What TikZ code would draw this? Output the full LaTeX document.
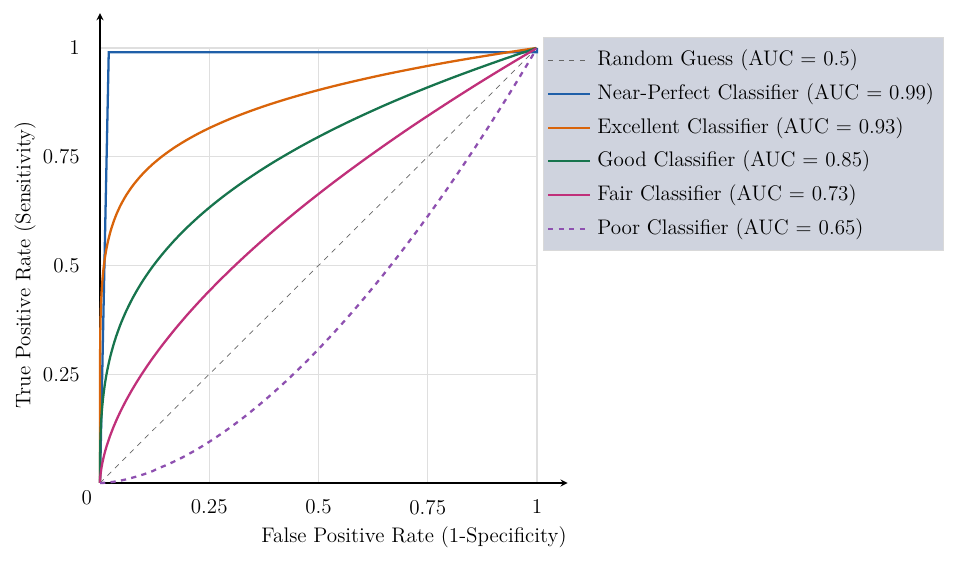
\documentclass[tikz,border=0pt]{standalone}
\usepackage{tikz}
\usetikzlibrary{positioning}
\definecolor{cblue}{HTML}{1F5FA8}
\definecolor{corange}{HTML}{D9640A}
\definecolor{cgreen}{HTML}{17744D}
\definecolor{cmagenta}{HTML}{C0307A}
\definecolor{cpurple}{HTML}{8E50B0}
\definecolor{legendbg}{HTML}{CFD3DE}
\begin{document}
\begin{tikzpicture}[
        x=0.2mm, y=0.2mm,
        every node/.style={font=\large},
        curve/.style={line width=1.3pt},
        guess/.style={gray!80!black, dashed, thin},
        poor/.style={curve, cpurple, dashed},
        gridline/.style={gray!25, line width=0.8pt},
        >=stealth
    ]
    \useasboundingbox (0,0) rectangle (960,564);

    % Plot area
    \begin{scope}[shift={(100,81)}, x=87.4mm, y=87mm]
    % Grid
    \foreach \t in {0.25,0.5,0.75,1} {
        \draw[gridline] (\t,0) -- (\t,1);
        \draw[gridline] (0,\t) -- (1,\t);
    }
    % Axes
    \coordinate (origin) at (0,0);
    \coordinate (xend) at (1.07,0);
    \coordinate (yend) at (0,1.08);
    \draw[->, thick] (origin) -- (xend);
    \draw[->, thick] (origin) -- (yend);
    % Tick labels
    \node[below left=1pt and 1pt] (zero) at (origin) {0};
    \foreach \t in {0.25,0.5,0.75,1} {
        \node[below=6pt] (xt\t) at (\t,0) {\t};
        \node[left=8pt] (yt\t) at (0,\t) {\t};
    }
    % Curves
    \draw[guess] (0,0) -- (1,1);
    \draw[curve, cblue] (0,0) -- (0.02,0.99) -- (1,0.99) -- (1,1);
    \foreach \a/\col in {0.147/corange, 0.33/cgreen, 0.59/cmagenta}
        \draw[curve, \col] (0,0) -- plot[domain=-14:0, samples=200, smooth]
            ({exp(\x)},{exp(\a*\x)});
    \draw[poor] plot[domain=0:1, samples=100] (\x,{\x^1.7});
    \end{scope}

    % Axis titles
    \node (xlabel) at (414,27) {False Positive Rate (1-Specificity)};
    \node[rotate=90] (ylabel) at (25,299) {True Positive Rate (Sensitivity)};

    % Legend
    \node[draw=gray!30, fill=legendbg, minimum width=80mm, minimum height=42.6mm,
          inner sep=0pt] (legend) at (743,420.5) {};
    \foreach \yy/\sty/\txt in {
        504/guess/{Random Guess (AUC = 0.5)},
        470/{curve,cblue}/{Near-Perfect Classifier (AUC = 0.99)},
        436/{curve,corange}/{Excellent Classifier (AUC = 0.93)},
        403/{curve,cgreen}/{Good Classifier (AUC = 0.85)},
        369/{curve,cmagenta}/{Fair Classifier (AUC = 0.73)},
        335/poor/{Poor Classifier (AUC = 0.65)}} {
        \coordinate (ls\yy) at (548,\yy);
        \coordinate (le\yy) at (590,\yy);
        \expandafter\draw\expandafter[\sty] (ls\yy) -- (le\yy);
        \node[anchor=west, inner sep=0pt] (lt\yy) at (597,\yy) {\txt};
    }
\end{tikzpicture}
\end{document}
